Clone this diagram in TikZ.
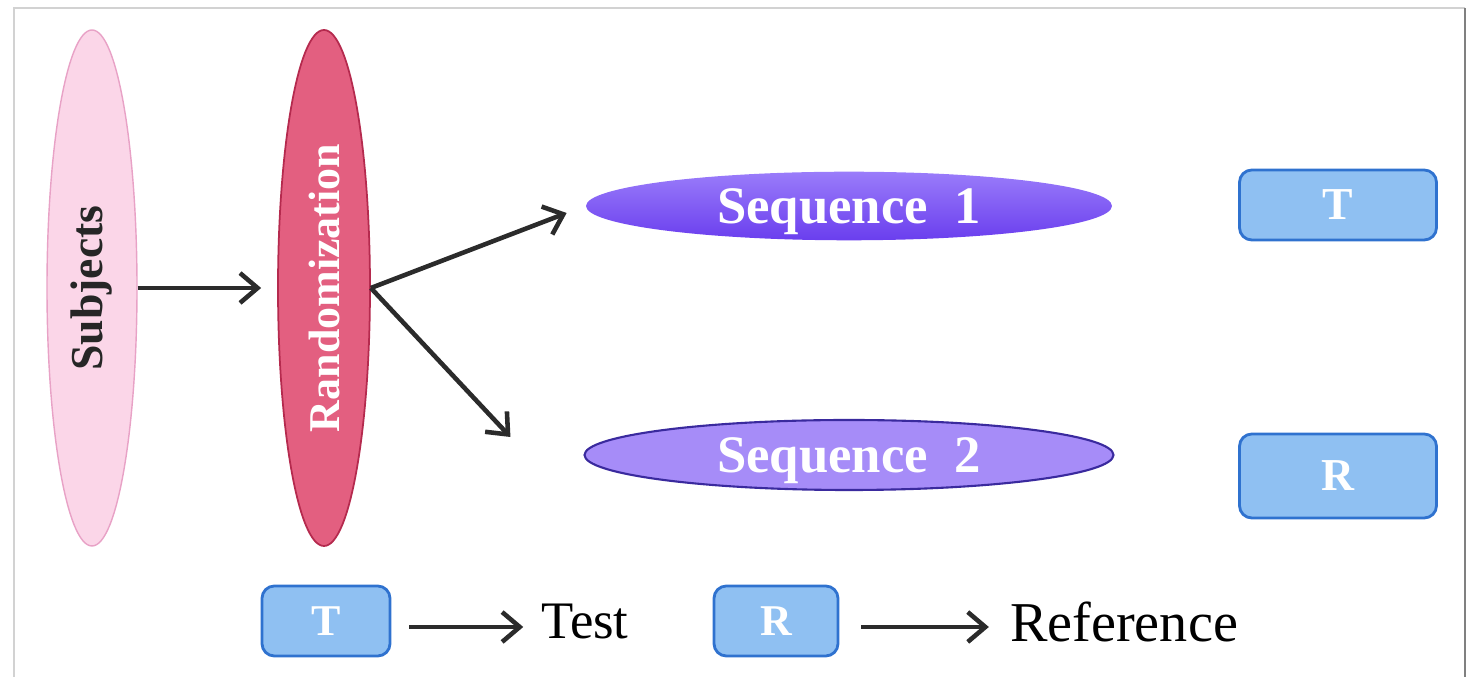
\documentclass[tikz,border=0pt]{standalone}
\usepackage{fontspec}
\setmainfont{Liberation Serif}
\usepackage{graphicx}
\usepackage{xcolor}
\usetikzlibrary{shapes.geometric, calc, arrows.meta, positioning}

\definecolor{subjfill}{HTML}{FBD6E8}
\definecolor{subjline}{HTML}{E8A2C6}
\definecolor{randfill}{HTML}{E35F80}
\definecolor{randline}{HTML}{B52A4E}
\definecolor{seqtop}{HTML}{9A7CFA}
\definecolor{seqbot}{HTML}{6A3EEE}
\definecolor{seqfill}{HTML}{A68CF8}
\definecolor{seqline}{HTML}{3A2A9E}
\definecolor{boxfill}{HTML}{8FC0F2}
\definecolor{boxline}{HTML}{2F72CF}
\definecolor{arrowgray}{HTML}{2B2B2B}

\tikzset{
  oval/.style={ellipse, inner sep=0pt, text=white, font=\bfseries},
  tag/.style={draw=boxline, fill=boxfill, line width=1.6pt, rounded corners=7pt, text=white, font=\bfseries\fontsize{26}{26}\selectfont},
  link/.style={draw=arrowgray, line width=2.6pt, -{Straight Barb[length=10pt,width=17pt]}},
}

\begin{document}
\begin{tikzpicture}
            \useasboundingbox (0,0) rectangle (29.46,13.54);
            % frame
            \draw[gray!35, line width=1pt] (0.28,0) -- (0.28,13.38) -- (29.3,13.38);
            \draw[gray, line width=1.5pt] (29.3,13.38) -- (29.3,0);
            % Ovals
            \node[oval, draw=subjline, fill=subjfill, line width=0.8pt, minimum width=1.8cm, minimum height=10.32cm, text=black!85] (subj) at (1.84,7.78) {\rotatebox{90}{\fontsize{26}{26}\selectfont Subjects}};
            \node[oval, draw=randline, fill=randfill, line width=1pt, minimum width=1.84cm, minimum height=10.32cm] (rand) at (6.48,7.78) {\rotatebox{90}{\fontsize{25}{25}\selectfont Randomization}};
            \node[oval, top color=seqtop, bottom color=seqbot, minimum width=10.52cm, minimum height=1.36cm, font=\bfseries\fontsize{30}{30}\selectfont] (seq1) at (16.98,9.42) {\raisebox{-3pt}[0.7em][0.22em]{Sequence\ \ 1}};
            \node[oval, draw=seqline, fill=seqfill, line width=1.2pt, minimum width=10.58cm, minimum height=1.4cm, font=\bfseries\fontsize{30}{30}\selectfont] (seq2) at (16.98,4.44) {\raisebox{-3pt}[0.7em][0.22em]{Sequence\ \ 2}};
            % Treatment boxes
            \node[tag, minimum width=3.94cm, minimum height=1.4cm] (t1) at (26.76,9.44) {T};
            \node[tag, minimum width=3.94cm, minimum height=1.68cm] (r1) at (26.76,4.02) {R};
            % Arrows
            \coordinate (in1) at ($(seq1.west)+(-0.38,-0.14)$);
            \coordinate (in2) at ($(seq2.west)+(-1.46,0.36)$);
            \draw[link, shorten >=0.32cm] (subj.east) -- (rand.west);
            \draw[link] (rand.east) -- (in1);
            \draw[link] (rand.east) -- (in2);
            % Key
            \node[tag, minimum width=2.56cm, minimum height=1.4cm, font=\bfseries\fontsize{25}{25}\selectfont] (tkey) at (6.52,1.12) {T};
            \node[font=\fontsize{30}{30}\selectfont] (test) at (11.7,1.1) {Test};
            \node[tag, minimum width=2.48cm, minimum height=1.4cm, font=\bfseries\fontsize{25}{25}\selectfont] (rkey) at (15.52,1.12) {R};
            \node[font=\fontsize{32}{32}\selectfont] (ref) at (22.48,1.1) {Reference};
            \draw[link, shorten <=0.36cm, shorten >=0.24cm] ([yshift=-0.12cm]tkey.east) -- ([yshift=-0.1cm]test.west);
            \draw[link, shorten <=0.44cm, shorten >=0.3cm] ([yshift=-0.12cm]rkey.east) -- ([yshift=-0.1cm]ref.west);
        \end{tikzpicture}
\end{document}
